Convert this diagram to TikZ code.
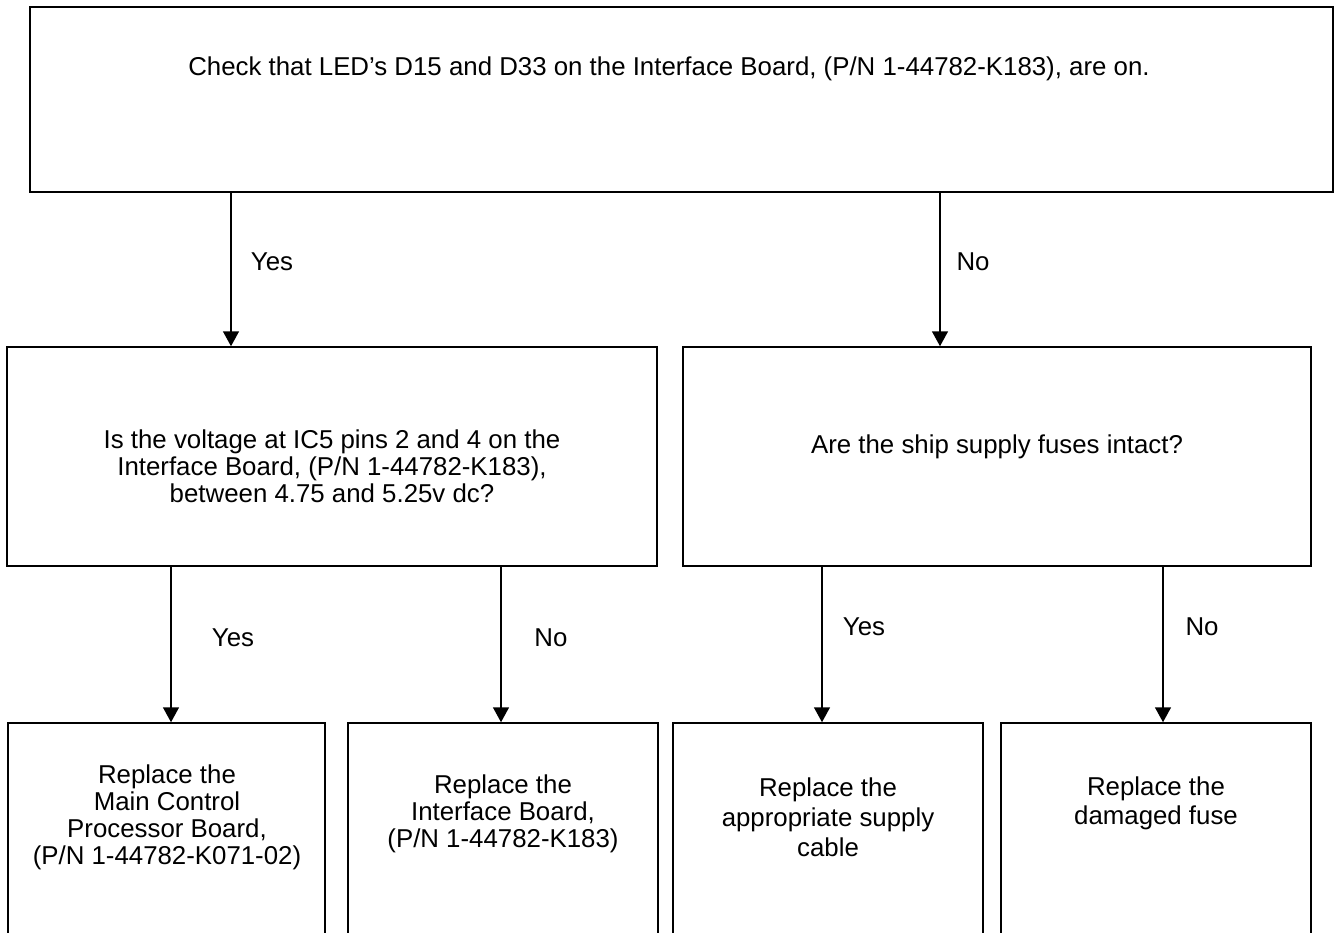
\documentclass[tikz,border=0pt]{standalone}
\usepackage{fontspec}
\setmainfont{Liberation Sans}
\usepackage{tikz}
\usetikzlibrary{arrows.meta,fit}

\tikzset{
  box/.style={draw, line width=0.85pt, inner sep=0pt},
  txt/.style={align=center, inner sep=0pt, font=\fontsize{14.7}{15.3}\selectfont},
  flow/.style={-{Triangle[length=8.5pt,width=9pt]}, line width=1.1pt},
}

\begin{document}
\begin{tikzpicture}[x=0.02cm, y=-0.02cm, line join=miter]
  \useasboundingbox (0,0) rectangle (1336,933);
  % boxes
  \node[box, fit={(30,7) (1333,192)}] (check) {};
  \node[box, fit={(7,347) (657,566)}] (volt) {};
  \node[box, fit={(683,347) (1311,566)}] (fuses) {};
  \node[box, fit={(8,723) (325,960)}] (mcpb) {};
  \node[box, fit={(348,723) (658,960)}] (iface) {};
  \node[box, fit={(673,723) (983,960)}] (cable) {};
  \node[box, fit={(1001,723) (1311,960)}] (fuse) {};
  % texts
  \node[txt] (t-check) at (669,69) {Check that LED’s D15 and D33 on the Interface Board, (P/N 1-44782-K183), are on.};
  \node[txt] (t-volt) at (332,466) {Is the voltage at IC5 pins 2 and 4 on the\\Interface Board, (P/N 1-44782-K183),\\between 4.75 and 5.25v dc?};
  \node[txt] (t-fuses) at (997,447) {Are the ship supply fuses intact?};
  \node[txt] (t-mcpb) at (167,817) {Replace the\\Main Control\\Processor Board,\\(P/N 1-44782-K071-02)};
  \node[txt] (t-iface) at (503,814) {Replace the\\Interface Board,\\(P/N 1-44782-K183)};
  \node[txt, font=\fontsize{14.7}{17}\selectfont] (t-cable) at (828,817) {Replace the\\appropriate supply\\cable};
  \node[txt, font=\fontsize{14.7}{16.4}\selectfont] (t-fuse) at (1156,803) {Replace the\\damaged fuse};
  % connectors
  \coordinate (c1) at (231,0);
  \coordinate (c2) at (940,0);
  \coordinate (c3) at (171,0);
  \coordinate (c4) at (501,0);
  \coordinate (c5) at (822,0);
  \coordinate (c6) at (1163,0);
  \draw[flow] (check.south -| c1) -- (volt.north -| c1);
  \draw[flow] (check.south -| c2) -- (fuses.north -| c2);
  \draw[flow] (volt.south -| c3) -- (mcpb.north -| c3);
  \draw[flow] (volt.south -| c4) -- (iface.north -| c4);
  \draw[flow] (fuses.south -| c5) -- (cable.north -| c5);
  \draw[flow] (fuses.south -| c6) -- (fuse.north -| c6);
  % labels
  \node[txt] (l1) at (272,262) {Yes};
  \node[txt] (l2) at (973,262) {No};
  \node[txt] (l3) at (233,638) {Yes};
  \node[txt] (l4) at (551,638) {No};
  \node[txt] (l5) at (864,627) {Yes};
  \node[txt] (l6) at (1202,627) {No};
\end{tikzpicture}
\end{document}
